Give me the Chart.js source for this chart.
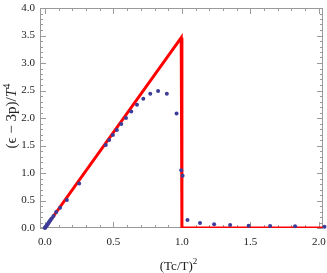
<!DOCTYPE html>
<html><head><meta charset="utf-8">
<script src="https://cdn.jsdelivr.net/npm/chart.js@4"></script>
<style>html,body{margin:0;padding:0;background:#fff}canvas{display:block}</style>
</head><body>
<canvas id="c" width="327" height="273"></canvas>
<script>
const pointX = [0, 0.002, 0.005, 0.01, 0.016, 0.02, 0.028, 0.033, 0.04, 0.049, 0.0625, 0.082, 0.111, 0.16, 0.25, 0.444, 0.469, 0.496, 0.525, 0.557, 0.592, 0.630, 0.672, 0.718, 0.769, 0.826, 0.890, 0.961, 0.995, 1.005, 1.041, 1.132, 1.235, 1.352, 1.487, 1.644, 1.826, 2.041];
const pointY = [0, 0.007, 0.017, 0.035, 0.055, 0.07, 0.1, 0.12, 0.145, 0.175, 0.22, 0.29, 0.37, 0.51, 0.81, 1.51, 1.6, 1.69, 1.78, 1.89, 2.0, 2.12, 2.24, 2.35, 2.44, 2.49, 2.44, 2.08, 1.05, 0.95, 0.145, 0.09, 0.067, 0.055, 0.042, 0.036, 0.03, 0.024];
const lineX = [0, 0.995, 1.0, 2.03];
const lineY = [0, 3.46, 0, 0];
const xTicks = [0, 0.5, 1.0, 1.5, 2.0];
const yTicks = [0, 0.5, 1.0, 1.5, 2.0, 2.5, 3.0, 3.5, 4.0];
// titles as [text, style] segments: n = normal, i = italic, s = superscript
const xTitle = [["(Tc/T)", "n"], ["2", "s"]];
const yTitle = [["(\u03F5 \u2212 3p)/", "n"], ["T", "i"], ["4", "s"]];

const FONT = "'Liberation Serif', 'Times New Roman', serif";

function segFont(style, size) {
  if (style === 'i') return `italic ${size}px ${FONT}`;
  if (style === 's') return `${Math.round(size * 0.7)}px ${FONT}`;
  return `${size}px ${FONT}`;
}
function drawSegments(ctx, segs, size, cx, cy, rotate) {
  ctx.save();
  ctx.translate(cx, cy);
  if (rotate) ctx.rotate(-Math.PI / 2);
  let total = 0;
  const widths = segs.map(([t, s]) => { ctx.font = segFont(s, size); const w = ctx.measureText(t).width; total += w; return w; });
  let xpos = -total / 2;
  ctx.fillStyle = '#222';
  ctx.textBaseline = 'alphabetic';
  const base = size * 0.35;
  segs.forEach(([t, s], i) => {
    ctx.font = segFont(s, size);
    ctx.fillText(t, xpos, s === 's' ? base - size * 0.42 : base);
    xpos += widths[i];
  });
  ctx.restore();
}

const frameTicks = {
  id: 'frameTicks',
  beforeDatasetsDraw(chart) {
    const {ctx, chartArea: a, scales: {x, y}} = chart;
    ctx.save();
    ctx.strokeStyle = '#9a9a9a';
    ctx.lineWidth = 1;
    ctx.strokeRect(a.left + 0.5, a.top + 0.5, a.right - a.left - 1, a.bottom - a.top - 1);
    ctx.beginPath();
    for (let i = 0; i <= 20; i++) {
      const px = Math.round(x.getPixelForValue(i / 10)) + 0.5;
      const len = i % 5 === 0 ? 6 : 3;
      ctx.moveTo(px, a.bottom); ctx.lineTo(px, a.bottom - len);
      ctx.moveTo(px, a.top); ctx.lineTo(px, a.top + len);
    }
    for (let i = 0; i <= 40; i++) {
      const py = Math.round(y.getPixelForValue(i / 10)) + 0.5;
      const len = i % 5 === 0 ? 6 : 3;
      ctx.moveTo(a.left, py); ctx.lineTo(a.left + len, py);
      ctx.moveTo(a.right, py); ctx.lineTo(a.right - len, py);
    }
    ctx.stroke();
    ctx.restore();
  },
  afterDraw(chart) {
    const {ctx, chartArea: a} = chart;
    drawSegments(ctx, xTitle, 13, (a.left + a.right) / 2 - 3, 265, false);
    drawSegments(ctx, yTitle, 15, 11, (a.top + a.bottom) / 2 - 2, true);
  }
};

new Chart(document.getElementById('c'), {
  type: 'scatter',
  data: {
    datasets: [
      {
        data: pointX.map((v, i) => ({x: v, y: pointY[i]})),
        backgroundColor: '#3d3d99',
        borderColor: '#3d3d99',
        pointRadius: 2,
        borderWidth: 0,
        clip: false
      },
      {
        data: lineX.map((v, i) => ({x: v, y: lineY[i]})),
        showLine: true,
        borderColor: '#ff0000',
        borderWidth: 3,
        borderJoinStyle: 'miter',
        pointRadius: 0,
        fill: false,
        tension: 0
      }
    ]
  },
  options: {
    responsive: false,
    animation: false,
    devicePixelRatio: 1,
    layout: {padding: {top: 8, right: 3, left: 0, bottom: 0}},
    plugins: {legend: {display: false}, tooltip: {enabled: false}},
    scales: {
      x: {
        type: 'linear', min: -0.036, max: 2.03,
        afterBuildTicks: s => { s.ticks = xTicks.map(v => ({value: v})); },
        afterFit: s => { s.height = 45; s.paddingLeft = 0; s.paddingRight = 0; },
        grid: {display: false, drawTicks: false},
        border: {display: false},
        ticks: {padding: 8, color: '#222', font: {family: FONT, size: 11}, maxRotation: 0, autoSkip: false,
          callback: v => Number(v).toFixed(1)},
        title: {display: false}
      },
      y: {
        type: 'linear', min: 0, max: 4,
        afterBuildTicks: s => { s.ticks = yTicks.map(v => ({value: v})); },
        afterFit: s => { s.width = 40; s.paddingTop = 0; s.paddingBottom = 0; },
        grid: {display: false, drawTicks: false},
        border: {display: false},
        ticks: {padding: 5, color: '#222', font: {family: FONT, size: 11}, autoSkip: false,
          callback: v => Number(v).toFixed(1)},
        title: {display: false}
      }
    }
  },
  plugins: [frameTicks]
});
</script>
</body></html>
